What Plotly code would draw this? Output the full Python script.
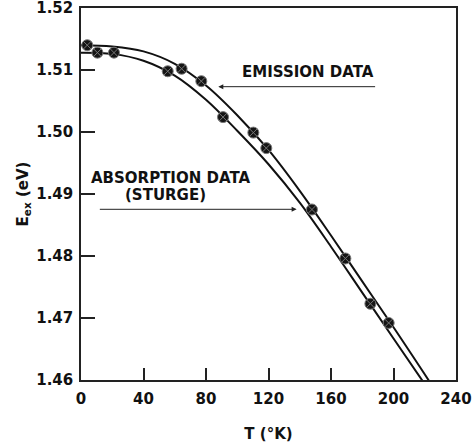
import plotly.graph_objects as go

# Measured data points (emission)
pts_T = [4.0, 10.5, 21.1, 55.5, 64.4, 77.0, 90.9, 110.3, 118.6, 147.8, 169.2, 185.2, 196.9]
pts_E = [1.5140, 1.5128, 1.5128, 1.5098, 1.5102, 1.5082, 1.5024, 1.4999, 1.4974, 1.4875, 1.4796, 1.4723, 1.4692]

# Emission fit curve (upper)
em_T = [0, 20, 40, 60, 80, 100, 120, 140, 160, 180, 200, 225]
em_E = [1.5140, 1.5138, 1.5130, 1.5110, 1.5075, 1.5027, 1.4971, 1.4905, 1.4833, 1.4759, 1.4685, 1.4590]

# Absorption curve (lower, Sturge)
ab_T = [0, 20, 40, 60, 80, 100, 120, 140, 160, 180, 200, 225]
ab_E = [1.5128, 1.5126, 1.5115, 1.5091, 1.5052, 1.5002, 1.4948, 1.4886, 1.4815, 1.4741, 1.4667, 1.4575]

x_ticks = [0, 40, 80, 120, 160, 200, 240]
y_ticks = [1.46, 1.47, 1.48, 1.49, 1.50, 1.51, 1.52]
y_ticktext = ["1.46", "1.47", "1.48", "1.49", "1.50", "1.51", "1.52"]

FONT = "DejaVu Sans"
TXT = dict(family=FONT, size=15, color="#111", weight="bold")

fig = go.Figure()
fig.add_trace(go.Scatter(x=em_T, y=em_E, mode="lines",
                         line=dict(color="#111", width=2, shape="spline", smoothing=1),
                         showlegend=False, hoverinfo="skip"))
fig.add_trace(go.Scatter(x=ab_T, y=ab_E, mode="lines",
                         line=dict(color="#111", width=2, shape="spline", smoothing=1),
                         showlegend=False, hoverinfo="skip"))
fig.add_trace(go.Scatter(x=pts_T, y=pts_E, mode="markers",
                         marker=dict(symbol="circle-x", size=11, color="#151515",
                                     line=dict(color="#777", width=1)),
                         showlegend=False))

fig.add_annotation(x=87.9, y=1.50731, ax=189.2, ay=1.50731, xref="x", yref="y", axref="x", ayref="y",
                   showarrow=True, arrowhead=2, arrowsize=1, arrowwidth=1, arrowcolor="#222", text="")
fig.add_annotation(x=145.3, y=1.50973, xref="x", yref="y", text="EMISSION DATA", showarrow=False, font=TXT)
fig.add_annotation(x=138, y=1.48753, ax=11.1, ay=1.48753, xref="x", yref="y", axref="x", ayref="y",
                   showarrow=True, arrowhead=2, arrowsize=1, arrowwidth=1, arrowcolor="#222", text="")
fig.add_annotation(x=57, y=1.49258, xref="x", yref="y", text="ABSORPTION DATA", showarrow=False, font=TXT)
fig.add_annotation(x=54.1, y=1.48984, xref="x", yref="y", text="(STURGE)", showarrow=False, font=TXT)

fig.update_layout(
    width=474, height=444,
    margin=dict(l=81, r=18, t=8, b=64),
    paper_bgcolor="white", plot_bgcolor="white",
    font=dict(family=FONT, size=15, color="#111"),
    xaxis=dict(range=[0, 240.0001], tickvals=x_ticks, ticks="inside", ticklen=12, tickwidth=1.5,
               tickcolor="#222", showgrid=False, zeroline=False, showline=True, linecolor="#222",
               linewidth=1.5, mirror=True, tickfont=TXT, automargin=False, ticklabeloverflow="allow",
               ticklabelstandoff=4,
               title=dict(text="T (°K)", font=TXT, standoff=22)),
    yaxis=dict(range=[1.4599999, 1.5200001], tickvals=y_ticks, ticktext=y_ticktext, ticks="inside",
               ticklen=14, tickwidth=1.5, tickcolor="#222", showgrid=False, zeroline=False,
               showline=True, linecolor="#222", linewidth=1.5, mirror=True, tickfont=TXT,
               automargin=False, ticklabeloverflow="allow", ticklabelstandoff=3,
               title=dict(text="E<sub>ex</sub> (eV)", font=TXT, standoff=4)),
)

fig.write_html("out.html", config={"displayModeBar": False},
               post_script="document.body.style.margin='0';document.body.style.padding='0';")
